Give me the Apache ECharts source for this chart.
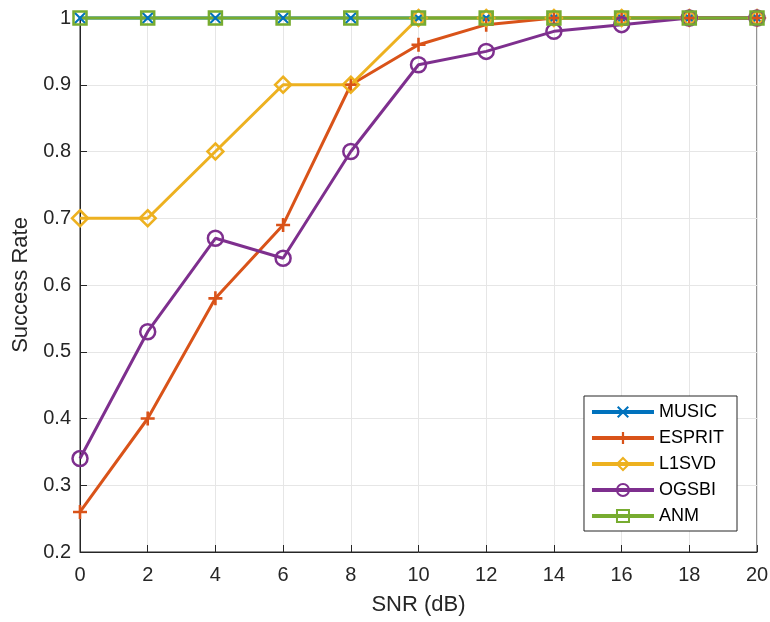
<!DOCTYPE html>
<html><head><meta charset="utf-8">
<script src="https://cdn.jsdelivr.net/npm/echarts@6/dist/echarts.min.js"></script>
<style>html,body{margin:0;padding:0;background:#fff}#c{width:770px;height:622px}</style>
</head><body><div id="c"></div>
<script>
const snr = [0, 2, 4, 6, 8, 10, 12, 14, 16, 18, 20];
const music = [1, 1, 1, 1, 1, 1, 1, 1, 1, 1, 1];
const esprit = [0.26, 0.40, 0.58, 0.69, 0.90, 0.96, 0.99, 1, 1, 1, 1];
const l1svd = [0.70, 0.70, 0.80, 0.90, 0.90, 1, 1, 1, 1, 1, 1];
const ogsbi = [0.34, 0.53, 0.67, 0.64, 0.80, 0.93, 0.95, 0.98, 0.99, 1, 1];
const anm = [1, 1, 1, 1, 1, 1, 1, 1, 1, 1, 1];
const names = ['MUSIC', 'ESPRIT', 'L1SVD', 'OGSBI', 'ANM'];
const colors = ['#0072BD', '#D95319', '#EDB120', '#7E2F8E', '#77AC30'];

const plusPath = 'path://M-1.3,-7 L1.3,-7 L1.3,-1.3 L7,-1.3 L7,1.3 L1.3,1.3 L1.3,7 L-1.3,7 L-1.3,1.3 L-7,1.3 L-7,-1.3 L-1.3,-1.3 Z';
const xPath = 'path://M-5,-6.6 L0,-1.6 L5,-6.6 L6.6,-5 L1.6,0 L6.6,5 L5,6.6 L0,1.6 L-5,6.6 L-6.6,5 L-1.6,0 L-6.6,-5 Z';

function mk(name, data, color, symbol, size, filledSym) {
  return {
    name: name, type: 'line',
    data: snr.map((x, i) => [x, data[i]]),
    symbol: symbol, symbolSize: size, showAllSymbol: true,
    lineStyle: { color: color, width: 3 },
    itemStyle: filledSym ? { color: color } : { color: 'rgba(255,255,255,0)', borderColor: color, borderWidth: 2.5 },
    emphasis: { disabled: true },
    animation: false, clip: false
  };
}

const FONT = 'Liberation Sans';
const chart = echarts.init(document.getElementById('c'), null, { renderer: 'canvas' });
chart.setOption({
  backgroundColor: '#fff',
  animation: false,
  grid: { left: 80, right: 13, top: 18, bottom: 70, show: false, containLabel: false, outerBoundsMode: 'none' },
  legend: {
    right: 33, bottom: 91, orient: 'vertical',
    itemWidth: 62, itemHeight: 15, itemGap: 8,
    backgroundColor: '#fff', borderColor: '#262626', borderWidth: 1, borderRadius: 0,
    padding: [7, 13, 6, 6],
    lineStyle: { width: 4 },
    textStyle: { fontFamily: FONT, fontSize: 18, color: '#000' },
    data: names
  },
  xAxis: {
    type: 'value', min: 0, max: 20, interval: 2,
    name: 'SNR (dB)', nameLocation: 'middle', nameGap: 42,
    nameTextStyle: { fontFamily: FONT, fontSize: 22, color: '#262626', verticalAlign: 'top' },
    axisLine: { show: true, lineStyle: { color: '#262626', width: 1 } },
    axisTick: { show: true, inside: true, length: 7, lineStyle: { color: '#262626' } },
    axisLabel: { fontFamily: FONT, fontSize: 20, color: '#262626', margin: 13 },
    splitLine: { show: true, lineStyle: { color: '#e6e6e6', width: 1 } }
  },
  yAxis: {
    type: 'value', min: 0.2, max: 1, interval: 0.1,
    name: 'Success Rate', nameLocation: 'middle', nameGap: 44,
    nameTextStyle: { fontFamily: FONT, fontSize: 22, color: '#262626' },
    axisLine: { show: true, lineStyle: { color: '#262626', width: 1 } },
    axisTick: { show: true, inside: true, length: 7, lineStyle: { color: '#262626' } },
    axisLabel: { fontFamily: FONT, fontSize: 20, color: '#262626', margin: 9,
      formatter: v => (Math.abs(v - 1) < 1e-9 ? '1' : v.toFixed(1)) },
    splitLine: { show: true, lineStyle: { color: '#e6e6e6', width: 1 } }
  },
  graphic: [{
    type: 'rect', shape: { x: 80, y: 18, width: 677, height: 534 },
    style: { fill: 'none', stroke: '#262626', lineWidth: 1 }, silent: true, z: 0
  }],
  series: [
    mk('MUSIC', music, colors[0], xPath, 12, true),
    mk('ESPRIT', esprit, colors[1], plusPath, 14, true),
    mk('L1SVD', l1svd, colors[2], 'diamond', 16, false),
    mk('OGSBI', ogsbi, colors[3], 'circle', 15, false),
    mk('ANM', anm, colors[4], 'rect', 13, false)
  ]
});
</script></body></html>
